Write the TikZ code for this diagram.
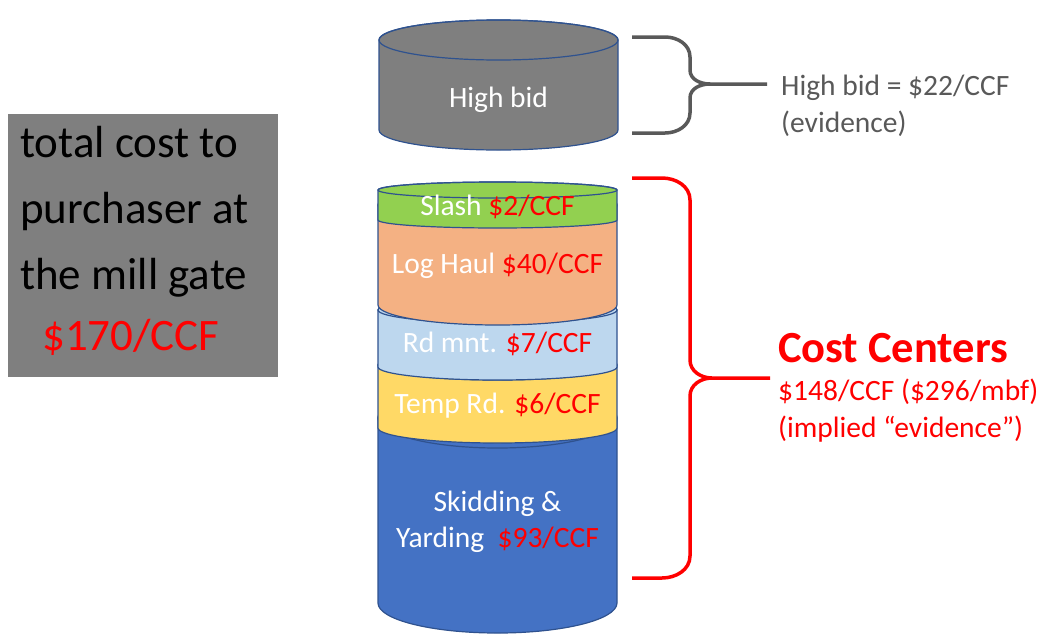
\documentclass[tikz,border=0pt]{standalone}
\usepackage{fontspec}
\setmainfont{Carlito}

\definecolor{drumedge}{HTML}{2F528F}
\definecolor{bidgray}{HTML}{7F7F7F}
\definecolor{bracegray}{HTML}{595959}
\definecolor{slashgreen}{HTML}{92D050}
\definecolor{haulorange}{HTML}{F4B183}
\definecolor{rdblue}{HTML}{BDD7EE}
\definecolor{tempyellow}{HTML}{FFD966}
\definecolor{skidblue}{HTML}{4472C4}
\definecolor{costred}{HTML}{FF0000}

% one drum of the stack: x centre, top y, bottom y, ellipse half height, fill
\newcommand{\drum}[5]{%
  \draw[drumedge, line width=1.2pt, fill=#5] (#1-119.5,#2) -- (#1-119.5,#3)
    arc[start angle=180, end angle=360, x radius=119.5pt, y radius=#4pt]
    -- (#1+119.5,#2)
    arc[start angle=0, end angle=180, x radius=119.5pt, y radius=#4pt] -- cycle;
  \draw[drumedge, line width=1.2pt] (#1,#2) ellipse[x radius=119.5pt, y radius=#4pt];
}

\begin{document}
\begin{tikzpicture}[x=1pt, y=1pt,
  drumtext/.style={text=white, anchor=base, inner sep=0pt, font=\fontsize{29.5}{36}\selectfont},
  brace/.style={line width=3.5pt, line join=round}]

\useasboundingbox (0,0) rectangle (1043,-635);

% total cost box
\node[fill=bidgray, minimum width=270pt, minimum height=263pt, inner sep=0pt, anchor=north west] (total) at (8,-114) {};
\node[anchor=base west, align=left, inner sep=0pt, font=\fontsize{45}{66}\selectfont] (totaltext) at (20,-350)
  {total cost to\\purchaser at\\the mill gate\\[-5pt]\hspace{22pt}\textcolor{costred}{\$170/CCF}};

% high bid drum
\drum{498.5}{-40}{-130}{20}{bidgray}
\node[drumtext] (bid) at (498.5,-107) {High bid};

% cost drums, bottom one first
\drum{497.5}{-418}{-603}{30}{skidblue}
\drum{497.5}{-365}{-428}{15}{tempyellow}
\drum{497.5}{-310}{-367}{13}{rdblue}
\drum{497.5}{-205}{-305}{20}{haulorange}
\drum{497.5}{-190}{-220}{8}{slashgreen}

\node[drumtext] (slash) at (497.5,-215) {Slash \textcolor{costred}{\$2/CCF}};
\node[drumtext] (haul) at (497.5,-273) {Log Haul \textcolor{costred}{\$40/CCF}};
\node[drumtext] (rdmnt) at (497.5,-352) {Rd mnt. \textcolor{costred}{\$7/CCF}};
\node[drumtext] (temprd) at (497.5,-413) {Temp Rd. \textcolor{costred}{\$6/CCF}};
\node[drumtext, align=center] (skid) at (497.5,-547) {Skidding \&\\Yarding\ \ \textcolor{costred}{\$93/CCF}};

% brace for the high bid
\draw[brace, bracegray] (632,-37) -- (665,-37) to[out=0,in=90] (690,-57) -- (690,-70)
  to[out=-90,in=180] (710,-84) -- (767,-84);
\draw[brace, bracegray] (632,-133) -- (665,-133) to[out=0,in=-90] (690,-113) -- (690,-98)
  to[out=90,in=180] (710,-84);
\node[anchor=base west, align=left, inner sep=0pt, text=bracegray, font=\fontsize{29.5}{37}\selectfont] (bidnote) at (781,-132)
  {High bid = \$22/CCF\\(evidence)};

% brace for the cost centers
\draw[brace, costred] (632,-178) -- (662,-178) to[out=0,in=90] (690,-200) -- (690,-360)
  to[out=-90,in=180] (712,-378) -- (770,-378);
\draw[brace, costred] (632,-578) -- (662,-578) to[out=0,in=-90] (690,-556) -- (690,-396)
  to[out=90,in=180] (712,-378);
\node[anchor=base west, inner sep=0pt, text=costred, font=\fontsize{44.5}{50}\selectfont\bfseries] (centers) at (778,-362) {Cost Centers};
\node[anchor=base west, align=left, inner sep=0pt, text=costred, font=\fontsize{29.5}{37}\selectfont] (centernote) at (778,-437)
  {\$148/CCF (\$296/mbf)\\(implied “evidence”)};

\end{tikzpicture}
\end{document}
